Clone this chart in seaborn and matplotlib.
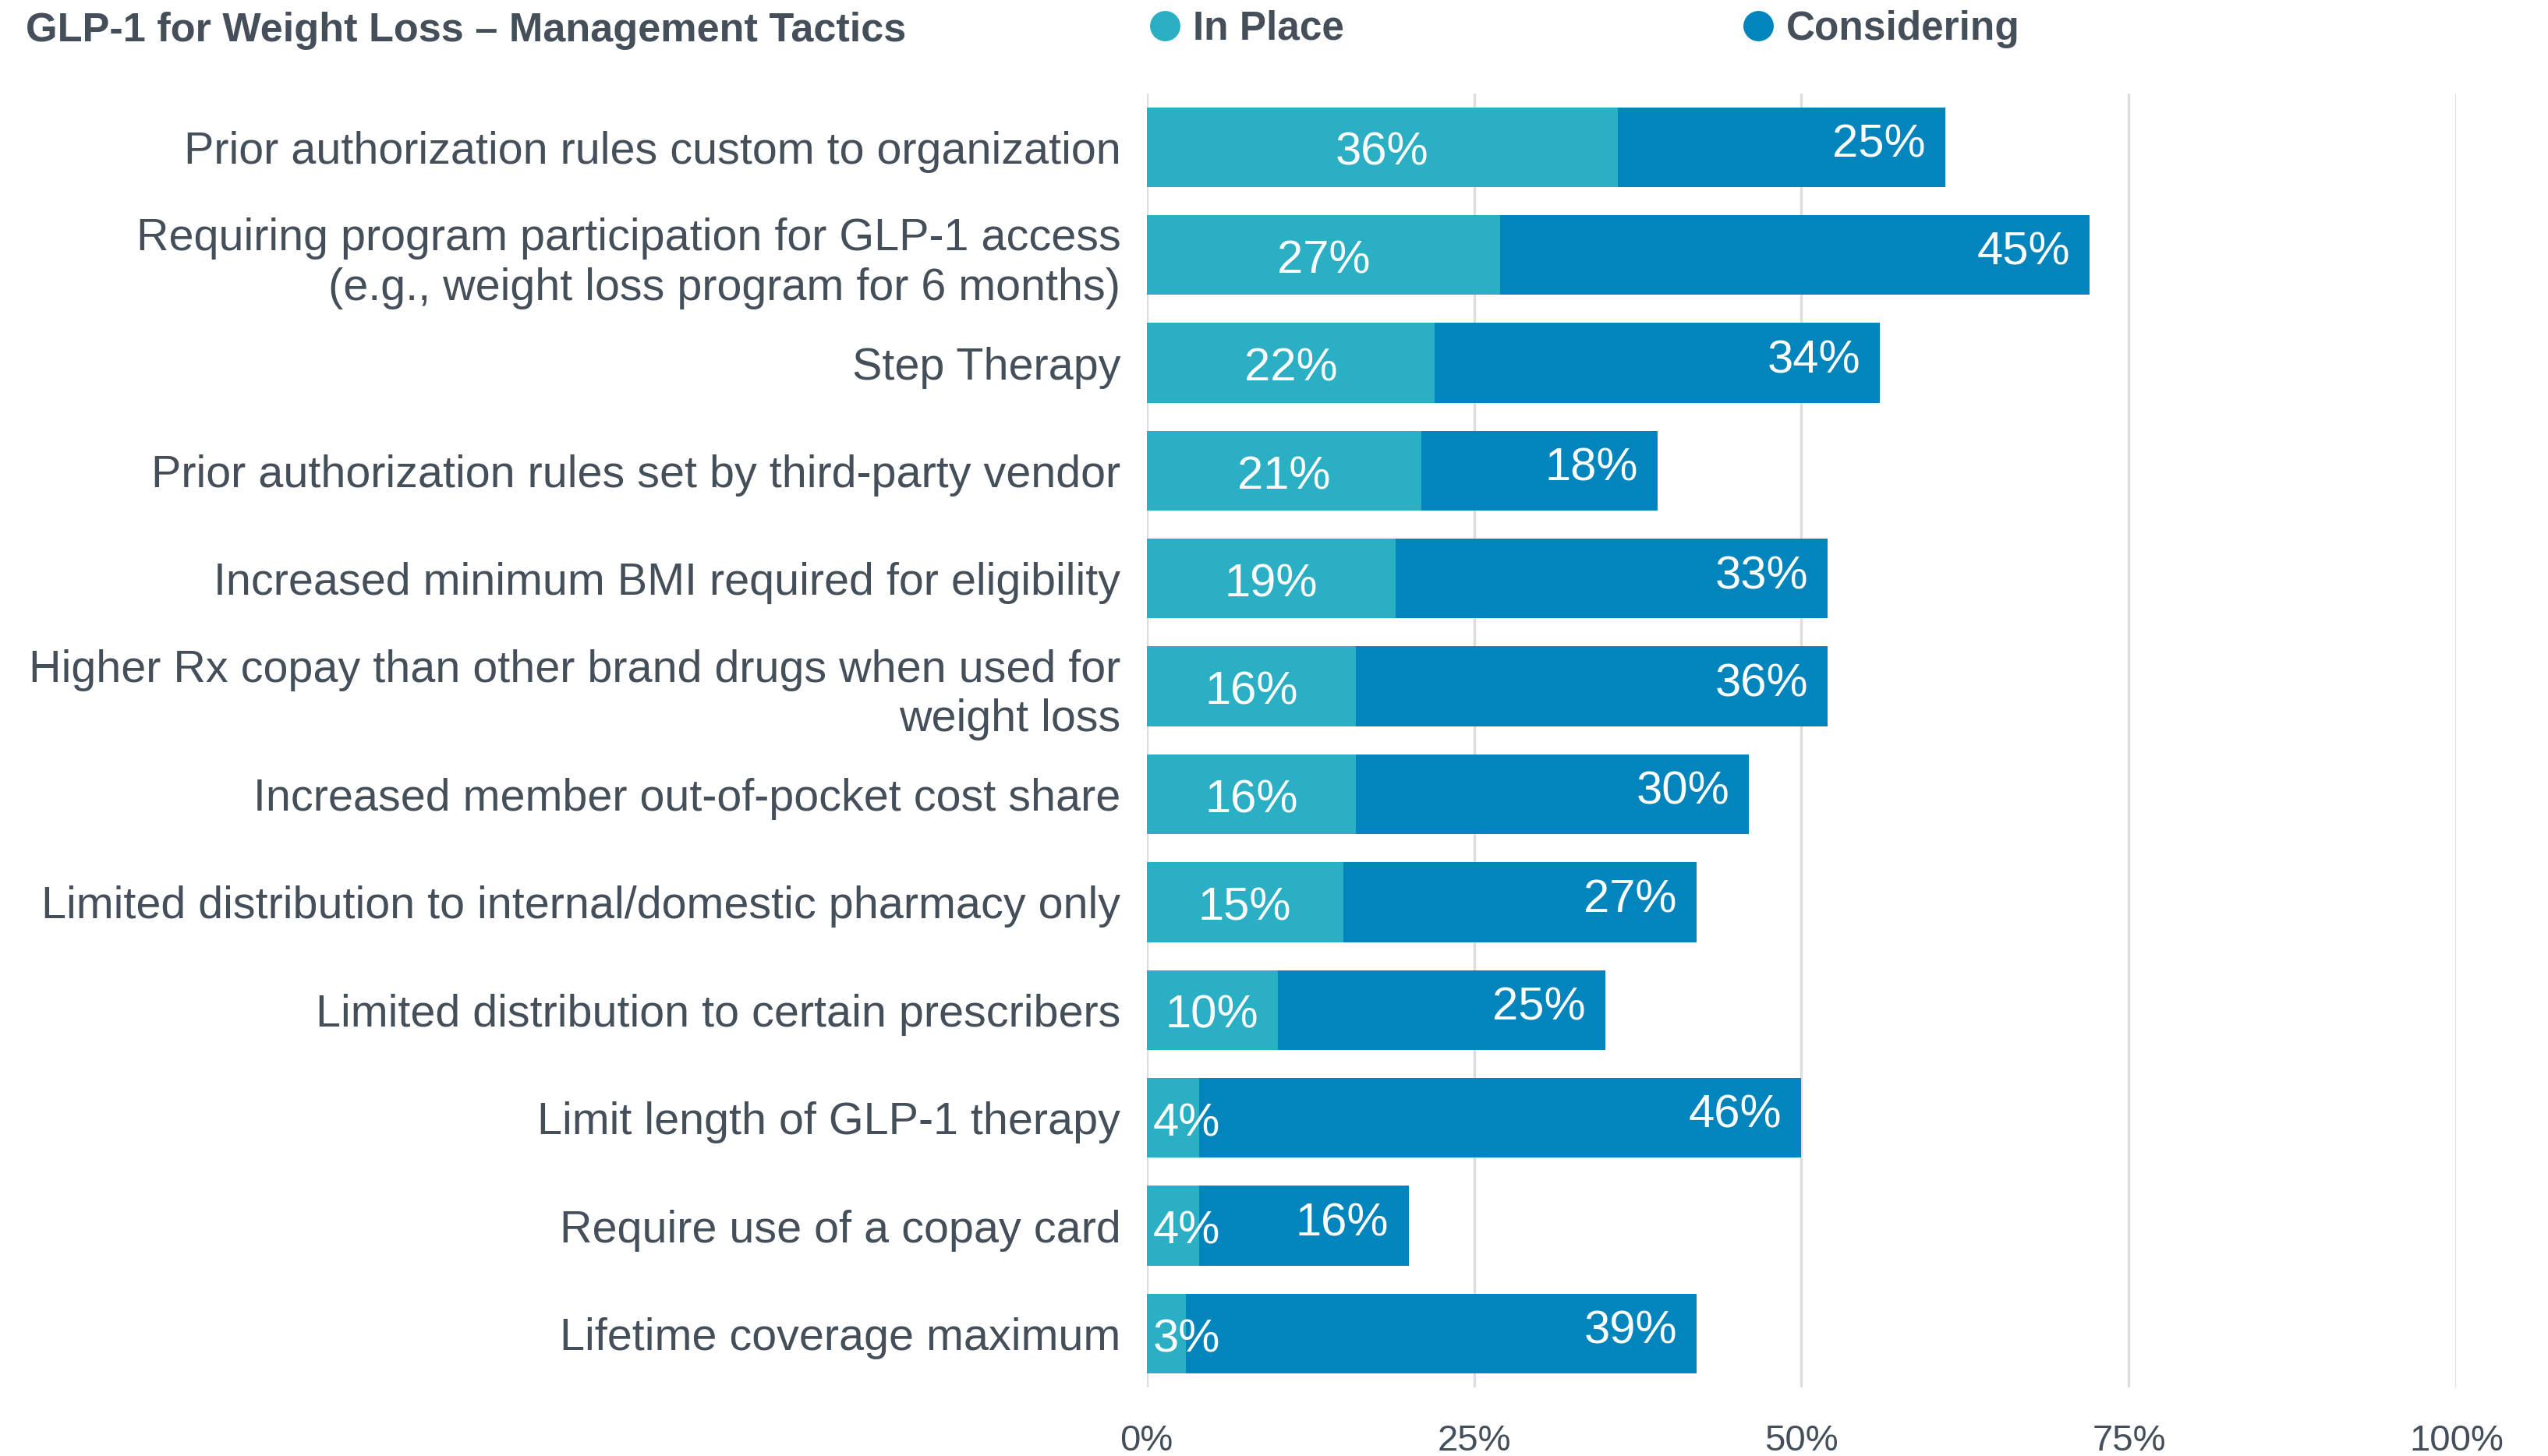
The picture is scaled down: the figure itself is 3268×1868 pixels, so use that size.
import matplotlib as mpl
mpl.use('Agg')
import matplotlib.pyplot as plt
from matplotlib.lines import Line2D
import numpy as np
import pandas as pd
import seaborn as sns

tactics = [
    'Prior authorization rules custom to organization',
    'Requiring program participation for GLP-1 access\n(e.g., weight loss program for 6 months)',
    'Step Therapy',
    'Prior authorization rules set by third-party vendor',
    'Increased minimum BMI required for eligibility',
    'Higher Rx copay than other brand drugs when used for\nweight loss',
    'Increased member out-of-pocket cost share',
    'Limited distribution to internal/domestic pharmacy only',
    'Limited distribution to certain prescribers',
    'Limit length of GLP-1 therapy',
    'Require use of a copay card',
    'Lifetime coverage maximum',
]
in_place = [36, 27, 22, 21, 19, 16, 16, 15, 10, 4, 4, 3]
considering = [25, 45, 34, 18, 33, 36, 30, 27, 25, 46, 16, 39]

df = pd.DataFrame({'tactic': tactics, 'in_place': in_place, 'considering': considering})
df['total'] = df['in_place'] + df['considering']

c_in = '#2aafc4'
c_con = '#0285bd'
txt = '#444f5a'

sns.set_style('white')
plt.rcParams['font.family'] = ['Liberation Sans', 'DejaVu Sans']

fig, ax = plt.subplots(figsize=(16.34, 9.34), dpi=200)
fig.subplots_adjust(left=0.450, right=0.964, top=0.936, bottom=0.047)

sns.barplot(data=df, x='total', y='tactic', color=c_con, width=0.74, ax=ax,
            orient='h', saturation=1, edgecolor='none', zorder=2)
sns.barplot(data=df, x='in_place', y='tactic', color=c_in, width=0.74, ax=ax,
            orient='h', saturation=1, edgecolor='none', zorder=3)

for i, (a, b, t) in enumerate(zip(in_place, considering, df['total'])):
    if a < 8:
        ax.text(0.5, i + 0.055, f'{a}%', ha='left', va='center', color='white',
                fontsize=21.5, zorder=4)
    else:
        ax.text(a / 2, i + 0.055, f'{a}%', ha='center', va='center', color='white',
                fontsize=21.5, zorder=4)
    ax.text(t - 1.5, i - 0.02, f'{b}%', ha='right', va='center', color='white',
            fontsize=21.5, zorder=4)

ax.set_xlim(0, 100)
ax.set_ylim(11.5, -0.5)
ax.set_xticks([0, 25, 50, 75, 100])
ax.set_xticklabels(['0%', '25%', '50%', '75%', '100%'])
ax.xaxis.grid(True, color='#dddddd', linewidth=1.2, zorder=0)
ax.set_axisbelow(True)
ax.tick_params(axis='x', length=0, pad=17, labelsize=17, labelcolor=txt)
ax.tick_params(axis='y', length=0, pad=12, labelsize=20.7, labelcolor=txt)
for lab in ax.get_yticklabels():
    lab.set_linespacing(1.23)
ax.set_xlabel('')
ax.set_ylabel('')
for s in ax.spines.values():
    s.set_visible(False)

fig.text(0.010, 0.979, 'GLP-1 for Weight Loss \u2013 Management Tactics', ha='left', va='center',
         fontsize=18.8, fontweight='bold', color=txt)

h1 = Line2D([], [], marker='o', linestyle='none', markersize=13, color=c_in)
h2 = Line2D([], [], marker='o', linestyle='none', markersize=13, color=c_con)
leg1 = fig.legend([h1], ['In Place'], loc='center left', bbox_to_anchor=(0.4413, 0.980),
                  frameon=False, handletextpad=0.2, prop={'size': 18.5, 'weight': 'bold'},
                  labelcolor=txt, borderpad=0, handlelength=1)
leg2 = fig.legend([h2], ['Considering'], loc='center left', bbox_to_anchor=(0.6743, 0.980),
                  frameon=False, handletextpad=0.2, prop={'size': 18.5, 'weight': 'bold'},
                  labelcolor=txt, borderpad=0, handlelength=1)

plt.savefig('out.png', dpi=200)
